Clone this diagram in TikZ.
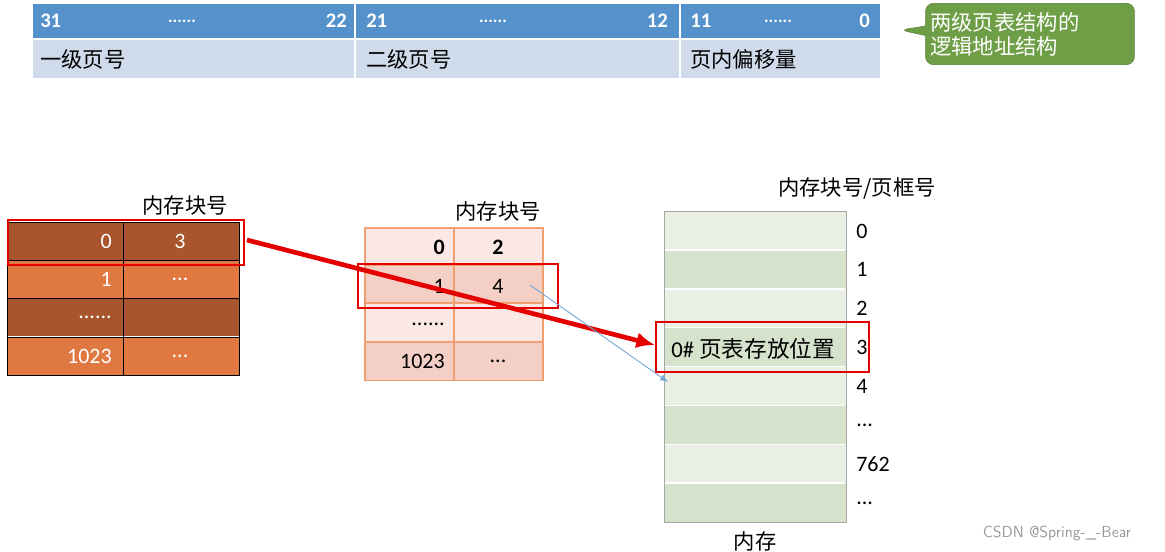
\documentclass[tikz,border=0pt]{standalone}
\usepackage{fontspec}
\setmainfont{Carlito}
\newfontfamily\cjk{Noto Sans CJK SC}
\usetikzlibrary{positioning,shapes.callouts,arrows.meta}
\newcommand\tdots{...}
\definecolor{barblue}{HTML}{5592CC}
\definecolor{barlight}{HTML}{CFDAEA}
\definecolor{calgreen}{HTML}{6E9E45}
\definecolor{darkbrown}{HTML}{A8552E}
\definecolor{brightorange}{HTML}{E07842}
\definecolor{pinklight}{HTML}{FBE8E4}
\definecolor{pinkdark}{HTML}{F4CFC6}
\definecolor{pinkline}{HTML}{F0A070}
\definecolor{memlight}{HTML}{E9F0E3}
\definecolor{memdark}{HTML}{D6E3CC}
\tikzset{
  cell/.style={draw,minimum height=0pt,inner sep=0pt},
  hot/.style={draw=red!90!black,line width=1.2pt},
  lbl/.style={font=\cjk\fontsize{16}{16}\selectfont,inner sep=0pt},
  num/.style={font=\fontsize{16.5}{16}\selectfont,inner sep=0pt},
  bar/.style={inner sep=0pt,text=white,font=\bfseries\fontsize{15.5}{15}\selectfont}
}
\begin{document}
\begin{tikzpicture}[x=0.75pt,y=-0.75pt]
\useasboundingbox (0,0) rectangle (1165,552);
% logical address
\fill[barblue] (33,4) rectangle (880,38);
\fill[barlight] (33,40) rectangle (880,78);
\draw[white,line width=1pt] (355,4) -- (355,78) (680,4) -- (680,78);
\foreach \x/\t in {40/31,366/21,690/11}
  \node[bar,anchor=west] at (\x,21) {\t};
\foreach \x/\t in {347/22,668/12,870/0}
  \node[bar,anchor=east] at (\x,21) {\t};
\foreach \x in {182,493,778}
  \node[bar,font=\bfseries\fontsize{13}{13}\selectfont] at (\x,21) {......};
\node[lbl,anchor=west] (lv1) at (40,59) {一级页号};
\node[lbl,anchor=west] (lv2) at (366,59) {二级页号};
\node[lbl,anchor=west] (offs) at (690,59) {页内偏移量};
% callout
\node[rectangle callout,rounded corners=6pt,fill=calgreen,draw=calgreen!80!black,text=white,
  font=\cjk\fontsize{16}{18}\selectfont,align=left,text width=150pt,minimum height=46pt,
  callout absolute pointer={(900,30)}] (note) at (1030,34) {两级页表结构的\\逻辑地址结构};
% first level table
\node[lbl] (t1) at (185,205) {内存块号};
\foreach \y/\c in {222/darkbrown,260/brightorange,298/darkbrown,337/brightorange}
  \fill[\c] (7,\y) rectangle (239,\y+38.5);
\draw (7,222) rectangle (239,375.5) (123,222) -- (123,375.5);
\foreach \y in {260,298,337} \draw (7,\y) -- (239,\y);
\foreach \y/\a/\b in {241/0/3,279/1/\tdots,356/1023/\tdots}{
  \node[num,anchor=east,text=white] at (112,\y) {\a};
  \node[num,text=white] at (180,\y) {\b};}
\node[num,anchor=east,text=white] at (112,317) {......};
\node[hot,cell,minimum width=177pt,minimum height=33.75pt] (r1) at (126,242.5) {};
% second level table
\node[lbl] (t2) at (498,211) {内存块号};
\foreach \y/\c in {228/pinklight,265/pinkdark,303/pinklight,342/pinkdark}
  \fill[\c] (365,\y) rectangle (543,\y+38.5);
\draw[pinkline,line width=1pt] (365,228) rectangle (543,380.5) (454,228) -- (454,380.5);
\foreach \y in {265,303,342} \draw[pinkline,line width=1pt] (365,\y) -- (543,\y);
\node[num,anchor=east,font=\bfseries\fontsize{16.5}{16}\selectfont] at (445,247) {0};
\node[num,font=\bfseries\fontsize{16.5}{16}\selectfont] at (498,247) {2};
\node[num,anchor=east] at (445,286) {1};
\node[num] (p4) at (498,286) {4};
\node[num,anchor=east] at (445,324) {......};
\node[num,anchor=east] at (445,361) {1023};
\node[num] at (498,361) {...};
\node[hot,cell,minimum width=150pt,minimum height=33pt] (r2) at (458,286) {};
% memory
\node[lbl] (t3) at (857,188) {内存块号/页框号};
\foreach \i/\c/\t in {0/memlight/0,1/memdark/1,2/memlight/2,3/memdark/3,4/memlight/4,5/memdark/\tdots,6/memlight/762,7/memdark/\tdots}{
  \fill[\c] (664,211+\i*38.9) rectangle (846,211+\i*38.9+38.9);
  \node[num,anchor=west] at (856,231+\i*38.9) {\t};}
\draw[gray!70] (664,211) rectangle (846,522.2);
\foreach \i in {1,...,7} \draw[white,line width=1.2pt] (665,211+\i*38.9) -- (845,211+\i*38.9);
\node[lbl,anchor=west,font=\cjk\fontsize{17}{17}\selectfont] (slot) at (671,349) {\fontspec{Carlito}0\#\ {\cjk 页表存放位置}};
\node[hot,cell,minimum width=159.75pt,minimum height=37.5pt] (r3) at (762.5,347) {};
\node[lbl] (mem) at (755,541) {内存};
% arrows
\coordinate (a1) at (247,240);
\coordinate (a2) at (655,345);
\draw[red!90!black,line width=3.5pt,-{Latex[length=14pt,width=12pt]}] (a1) -- (a2);
\coordinate (b1) at (530,285);
\coordinate (b2) at (668,382);
\draw[barblue!80,line width=0.7pt,-{Latex[length=6pt,width=5pt]}] (b1) -- (b2);
% watermark
\node[text=gray!80,font=\fontsize{12}{12}\selectfont\sffamily] (wm) at (1057,533) {CSDN @Spring-\_-Bear};
\end{tikzpicture}
\end{document}
